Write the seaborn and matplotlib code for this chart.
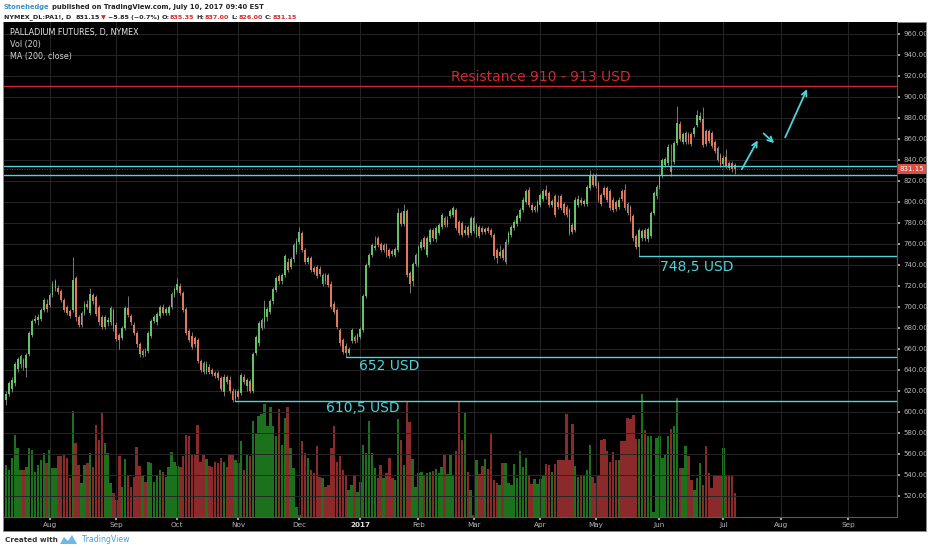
import numpy as np
import pandas as pd
import matplotlib.pyplot as plt
from matplotlib.patches import Rectangle, Polygon
import seaborn as sns

# daily candles, NYMEX palladium front month, 11 Jul 2016 .. 10 Jul 2017
opens = [
    611, 617, 622, 627, 641, 645, 649, 642, 655, 673,
    686, 687, 688, 697, 703, 702, 711, 718, 718, 715,
    706, 700, 696, 697, 727, 690, 683, 694, 703, 694,
    711, 709, 700, 690, 681, 685, 685, 697, 683, 673,
    670, 680, 699, 691, 683, 675, 664, 654, 658, 658,
    672, 686, 685, 691, 700, 694, 694, 700, 711, 716,
    720, 713, 698, 677, 672, 670, 668, 648, 646, 638,
    643, 640, 637, 637, 632, 619, 633, 630, 620, 612,
    620, 618, 633, 624, 629, 620, 656, 665, 680, 685,
    690, 695, 705, 716, 729, 724, 730, 743, 738, 745,
    752, 762, 770, 754, 743, 746, 737, 738, 736, 722,
    730, 730, 722, 703, 697, 678, 668, 663, 656, 667,
    671, 668, 671, 678, 710, 740, 749, 756, 765, 760,
    754, 759, 754, 753, 749, 754, 789, 779, 791, 732,
    724, 741, 740, 756, 765, 749, 762, 773, 764, 770,
    776, 784, 778, 786, 787, 792, 781, 780, 770, 776,
    770, 784, 768, 776, 775, 771, 775, 773, 768, 754,
    748, 754, 743, 762, 768, 775, 779, 784, 792, 800,
    811, 797, 792, 792, 797, 803, 811, 808, 797, 805,
    800, 805, 798, 795, 792, 778, 773, 797, 802, 798,
    798, 813, 825, 825, 818, 806, 813, 813, 810, 802,
    800, 795, 810, 811, 798, 795, 786, 767, 757, 765,
    773, 764, 767, 789, 805, 814, 825, 835, 837, 833,
    838, 856, 874, 857, 857, 864, 864, 864, 873, 878,
    879, 867, 867, 865, 857, 851, 844, 836, 843, 837,
    837, 835.35,
]
highs = [
    620, 629, 633, 647, 652, 655, 651, 656, 677, 688,
    692, 693, 699, 708, 707, 713, 724, 726, 721, 717,
    708, 702, 698, 747, 729, 692, 696, 705, 706, 718,
    713, 711, 702, 692, 692, 690, 701, 699, 685, 675,
    682, 701, 710, 693, 685, 677, 666, 660, 661, 677,
    688, 692, 695, 702, 703, 700, 702, 714, 719, 727,
    723, 715, 700, 679, 676, 672, 670, 650, 648, 648,
    645, 642, 639, 639, 634, 636, 635, 634, 623, 622,
    622, 637, 636, 632, 631, 657, 673, 686, 689, 706,
    700, 707, 719, 729, 731, 732, 750, 746, 747, 761,
    765, 776, 772, 756, 748, 748, 739, 740, 739, 732,
    732, 732, 724, 705, 699, 680, 670, 665, 662, 680,
    673, 675, 681, 712, 742, 751, 761, 767, 767, 762,
    761, 761, 756, 755, 757, 794, 791, 798, 793, 734,
    743, 751, 759, 764, 767, 767, 775, 775, 777, 780,
    789, 786, 786, 793, 796, 794, 783, 782, 778, 778,
    786, 786, 780, 778, 777, 776, 777, 775, 770, 756,
    759, 756, 764, 772, 778, 783, 788, 794, 804, 812,
    814, 799, 797, 802, 808, 812, 816, 810, 803, 807,
    806, 807, 800, 797, 794, 780, 804, 806, 804, 803,
    816, 830, 827, 827, 820, 808, 815, 815, 812, 804,
    802, 804, 812, 817, 800, 797, 788, 769, 775, 774,
    775, 776, 791, 810, 816, 826, 842, 843, 855, 855,
    858, 891, 877, 866, 867, 866, 866, 872, 887, 885,
    890, 869, 869, 867, 859, 853, 846, 844, 850, 839,
    839, 837,
]
lows = [
    606, 615, 619, 624, 638, 642, 640, 633, 653, 671,
    684, 683, 686, 695, 695, 700, 709, 715, 712, 704,
    695, 692, 689, 695, 686, 681, 681, 692, 698, 692,
    703, 691, 683, 679, 679, 682, 683, 677, 667, 660,
    668, 678, 690, 683, 673, 662, 652, 652, 653, 656,
    670, 684, 683, 689, 692, 692, 692, 698, 709, 714,
    711, 695, 673, 666, 660, 662, 646, 638, 636, 636,
    636, 634, 632, 630, 620, 615, 626, 618, 609, 610,
    612, 616, 626, 620, 618, 618, 654, 663, 678, 680,
    686, 693, 703, 714, 722, 722, 728, 733, 736, 743,
    750, 760, 752, 741, 741, 733, 731, 727, 729, 720,
    722, 719, 698, 693, 679, 663, 655, 652, 654, 665,
    665, 666, 669, 676, 708, 738, 747, 754, 757, 752,
    752, 747, 746, 748, 747, 752, 777, 777, 728, 713,
    720, 739, 738, 754, 755, 747, 760, 763, 762, 768,
    774, 776, 776, 784, 785, 773, 768, 766, 768, 766,
    768, 770, 766, 765, 769, 769, 770, 766, 745, 742,
    746, 744, 741, 760, 766, 773, 777, 782, 790, 798,
    795, 790, 790, 790, 795, 801, 803, 795, 795, 785,
    793, 792, 787, 785, 768, 769, 771, 795, 797, 796,
    796, 811, 814, 813, 800, 796, 804, 800, 792, 790,
    791, 793, 801, 792, 787, 781, 763, 755, 748.5, 763,
    763, 762, 765, 787, 803, 812, 823, 833, 835, 824,
    836, 854, 858, 855, 855, 855, 853, 862, 871, 876,
    852, 853, 856, 851, 846, 838, 833, 834, 832, 830,
    828, 826,
]
closes = [
    617, 627, 630, 645, 650, 653, 643, 654, 675, 686,
    688, 690, 697, 706, 698, 711, 722, 724, 714, 706,
    697, 694, 691, 725, 690, 683, 694, 703, 700, 712,
    705, 693, 685, 681, 690, 687, 699, 679, 669, 668,
    680, 699, 692, 685, 675, 664, 655, 658, 656, 675,
    686, 690, 693, 700, 694, 698, 700, 712, 717, 722,
    713, 697, 675, 668, 662, 664, 648, 640, 638, 645,
    638, 636, 634, 632, 622, 633, 628, 620, 611, 620,
    614, 635, 628, 630, 620, 655, 671, 684, 687, 700,
    698, 705, 717, 727, 724, 730, 748, 735, 745, 759,
    763, 771, 754, 743, 746, 735, 733, 729, 731, 730,
    724, 721, 700, 695, 681, 665, 657, 656, 660, 678,
    667, 673, 679, 710, 740, 749, 759, 758, 759, 754,
    759, 749, 748, 750, 755, 789, 779, 791, 730, 722,
    741, 749, 757, 762, 757, 765, 773, 765, 775, 778,
    787, 778, 783, 791, 794, 775, 770, 768, 773, 768,
    784, 772, 778, 767, 771, 774, 772, 768, 748, 746,
    752, 746, 762, 770, 776, 781, 786, 792, 802, 810,
    797, 792, 795, 800, 806, 810, 805, 797, 801, 787,
    795, 794, 789, 787, 770, 771, 802, 803, 799, 801,
    814, 825, 816, 815, 802, 798, 806, 802, 794, 792,
    793, 802, 803, 794, 789, 783, 765, 757, 773, 772,
    765, 774, 789, 808, 814, 824, 840, 841, 852, 828,
    856, 875, 860, 864, 865, 857, 855, 870, 883, 882,
    854, 855, 858, 853, 848, 840, 835, 842, 834, 832,
    831, 831.15,
]
# volume, relative units (bar heights)
volumes = [
    155, 140, 175, 245, 205, 140, 140, 150, 205, 200,
    135, 155, 170, 190, 160, 198, 145, 145, 180, 182,
    185, 175, 115, 315, 220, 155, 100, 155, 160, 190,
    150, 275, 230, 310, 220, 190, 100, 70, 50, 182,
    90, 172, 122, 90, 118, 208, 152, 122, 105, 165,
    162, 105, 122, 140, 135, 118, 148, 193, 165, 152,
    148, 180, 245, 240, 185, 185, 275, 165, 185, 172,
    152, 150, 165, 160, 175, 165, 148, 185, 185, 170,
    162, 225, 140, 188, 180, 285, 250, 300, 305, 335,
    270, 328, 270, 240, 320, 215, 295, 328, 205, 145,
    30, 5, 225, 190, 175, 140, 130, 210, 120, 115,
    90, 95, 205, 270, 165, 182, 140, 122, 80, 95,
    125, 75, 105, 215, 190, 285,
    190, 145, 115, 155, 115, 130, 175, 115, 110, 292,
    228, 155, 345, 282, 172, 88, 132, 135, 122, 130,
    135, 138, 142, 130, 148, 185, 128, 185, 125, 195,
    345, 230, 310, 135, 80, 5, 168, 128, 152, 172,
    142, 250, 110, 102, 95, 162, 162, 102, 95, 158,
    115, 195, 150, 175, 125, 98, 112, 98, 112, 125,
    158, 155, 135, 158, 168, 168, 170, 305, 170, 278,
    152, 120, 122, 122, 140, 215, 118, 102, 125, 230,
    232, 195, 165, 192, 170, 170, 225, 225, 295, 290,
    302, 232, 232, 365, 260, 242, 240, 15, 235, 242,
    175, 185, 242, 262, 270, 355, 145, 145, 210, 180,
    110, 80, 115, 162, 95, 210, 130, 85, 125, 125,
    122, 205, 125, 125, 125, 70,
]

holidays = ['2016-09-05', '2016-11-24', '2016-12-26', '2017-01-02', '2017-01-16',
            '2017-02-20', '2017-04-14', '2017-05-29', '2017-07-04', '2017-09-04']
month_labels = ['Aug', 'Sep', 'Oct', 'Nov', 'Dec', '2017', 'Feb', 'Mar',
                'Apr', 'May', 'Jun', 'Jul', 'Aug', 'Sep']
price_ticks = list(range(520, 961, 20))

resistance = 910
range_levels = [834, 825]
swing_levels = [748.5, 652, 610.5]
swing_labels = ['748,5 USD', '652 USD', '610,5 USD']
last_price = 831.15

GREEN = '#66c266'
RED = '#e0785c'
VGREEN = '#1c721c'
VRED = '#8a2a2a'
CYAN = '#4fd3da'
LRED = '#d2292e'
TXT = '#b8b8b8'

sns.set_theme(style='dark')
plt.rcParams['font.family'] = ['DejaVu Sans']

W, H = 932, 550
fig = plt.figure(figsize=(W / 100, H / 100), dpi=100, facecolor='white')


def fx(x):
    return x / W


def fy(y):
    return 1 - y / H


# black chart panel incl. right scale and date strip
fig.add_artist(Rectangle((fx(3), fy(531)), fx(926) - fx(3), fy(22) - fy(531),
                         transform=fig.transFigure, facecolor='black',
                         edgecolor='#8a8a8a', lw=0.6, zorder=0))

rect = [fx(4), fy(517), 893 / W, 495 / H]
ax_vol = fig.add_axes(rect)
ax = fig.add_axes(rect, sharex=ax_vol)
ax_vol.set_facecolor('black')
ax.set_facecolor('none')

n = len(closes)
day = np.arange(n)
o = np.array(opens, dtype=float)
c = np.array(closes, dtype=float)
up = c >= o

# volume pane
vol_df = pd.DataFrame({'day': day, 'volume': volumes, 'dir': np.where(up, 'up', 'down')})
sns.barplot(data=vol_df, x='day', y='volume', hue='dir',
            palette={'up': VGREEN, 'down': VRED}, native_scale=True, dodge=False,
            width=0.85, errorbar=None, legend=False, saturation=1, linewidth=0, ax=ax_vol)
ax_vol.set_ylim(0, max(volumes) / 0.248)
ax_vol.set_xlabel('')
ax_vol.set_ylabel('')
ax_vol.set_yticks([])
ax_vol.tick_params(axis='x', bottom=False, labelbottom=False)
for s in ax_vol.spines.values():
    s.set_visible(False)

# candles
ax.vlines(day, lows, highs, color='#8a8a8a', lw=0.6, zorder=3)
ax.bar(day, np.maximum(np.abs(c - o), 0.7), bottom=np.minimum(o, c), width=0.62,
       color=np.where(up, GREEN, RED), lw=0, zorder=4)

# calendar for the time axis
days = pd.bdate_range('2016-07-11', '2017-10-31', freq='C', holidays=holidays)
month_pos = [i for i in range(1, len(days)) if days[i].month != days[i - 1].month]
month_pos = month_pos[:len(month_labels)]

ax.set_xlim(-0.7, 306.8)
ax.set_ylim(499.7, 971.1)

ax.set_xticks(month_pos, month_labels)
ax.set_yticks(price_ticks, [f'{v:.2f}' for v in price_ticks])
ax.yaxis.tick_right()
ax.grid(True, color='#262626', lw=0.7)
ax.set_axisbelow(True)
ax.tick_params(axis='y', colors=TXT, labelsize=5, length=2.5, pad=2,
               right=True, left=False, labelright=True, labelleft=False)
ax.tick_params(axis='x', colors=TXT, labelsize=5.2, length=2, pad=1.5, bottom=True)
for lbl in ax.get_xticklabels():
    if lbl.get_text() == '2017':
        lbl.set_fontweight('bold')
        lbl.set_color('#e0e0e0')
for side in ['top', 'left']:
    ax.spines[side].set_visible(False)
for side in ['right', 'bottom']:
    ax.spines[side].set_color('#5a5a5a')
    ax.spines[side].set_linewidth(0.8)

# horizontal levels
ax.axhline(resistance, color=LRED, lw=1.0, zorder=5)
for lv in range_levels:
    ax.axhline(lv, color=CYAN, lw=1.0, zorder=5)
ax.axhline(last_price, color='#e2453c', lw=0.6, ls=(0, (1, 2)), zorder=5)

# swing lows: the line starts at the latest candle whose low is nearest the level
lows_rev = np.array(lows, dtype=float)[::-1]
label_offsets = [(20, -11), (15, -9), (44, -7)]
for lv, txt, (dx, dy) in zip(swing_levels, swing_labels, label_offsets):
    start = n - 1 - int(np.argmin(np.abs(lows_rev - lv)))
    ax.plot([start, 306.8], [lv, lv], color=CYAN, lw=1.0, zorder=5)
    ax.annotate(txt, xy=(start + dx, lv), xytext=(0, dy), textcoords='offset pixels',
                ha='center', va='center', color=CYAN, fontsize=10, zorder=6)

ax.annotate('Resistance 910 - 913 USD', xy=(184, resistance), xytext=(0, 9),
            textcoords='offset pixels', ha='center', va='center', color=LRED, fontsize=10)

# projected path arrows
arrows = [((252.9, 828.6), (259.3, 860.7)),
          ((260.2, 866.7), (265.2, 854.0)),
          ((267.9, 858.8), (276.2, 909.5))]
for start, end in arrows:
    ax.annotate('', xy=end, xytext=start,
                arrowprops=dict(arrowstyle='->', color=CYAN, lw=1.3, mutation_scale=9))

# last price tag on the scale
ax.text(1.003, last_price, f'{last_price:.2f}', transform=ax.get_yaxis_transform(),
        ha='left', va='center', fontsize=5, color='white', clip_on=False, zorder=10,
        bbox=dict(boxstyle='square,pad=0.3', fc='#e24c3f', ec='none'))

# legend lines in the pane
fig.text(fx(10), fy(33), 'PALLADIUM FUTURES, D, NYMEX', color='#e6e6e6', fontsize=5.8, va='center')
fig.text(fx(10), fy(45), 'Vol (20)', color='#d0d0d0', fontsize=5.8, va='center')
fig.text(fx(10), fy(56), 'MA (200, close)', color='#d0d0d0', fontsize=5.8, va='center')

renderer = fig.canvas.get_renderer()


def chain(x, y, parts, size, weight='normal'):
    for txt, col, gap in parts:
        t = fig.text(fx(x), fy(y), txt, color=col, fontsize=size, fontweight=weight,
                     ha='left', va='center')
        x += t.get_window_extent(renderer=renderer).width + gap


DARK = '#222222'
BLUE = '#3d8fcf'
HRED = '#d22b2b'
chain(4, 7, [('Stonehedge', BLUE, 2.5),
             ('published on TradingView.com, July 10, 2017 09:40 EST', DARK, 0)], 4.9, 'bold')
chain(4, 17.5, [('NYMEX_DL:PA1!, D', DARK, 4), ('831.15', DARK, 1.5), ('\u25bc', HRED, 1.5),
                ('\u22125.85 (\u22120.7%)', DARK, 2), ('O:', DARK, 0.5), ('835.35', HRED, 2),
                ('H:', DARK, 0.5), ('837.00', HRED, 2), ('L:', DARK, 0.5), ('826.00', HRED, 2),
                ('C:', DARK, 0.5), ('831.15', HRED, 0)], 4.6, 'bold')

# footer
fig.text(fx(5), fy(540), 'Created with', color='#333333', fontsize=5.2, fontweight='bold', va='center')
fig.add_artist(Polygon([(fx(60), fy(544)), (fx(64), fy(537)), (fx(68), fy(541)),
                        (fx(72), fy(535)), (fx(77), fy(544))],
                       closed=True, transform=fig.transFigure, facecolor='#6fb8e6', edgecolor='none'))
fig.text(fx(82), fy(540), 'TradingView', color='#4a9fd8', fontsize=5.6, va='center')

fig.savefig('out.png', dpi=100, facecolor='white')
